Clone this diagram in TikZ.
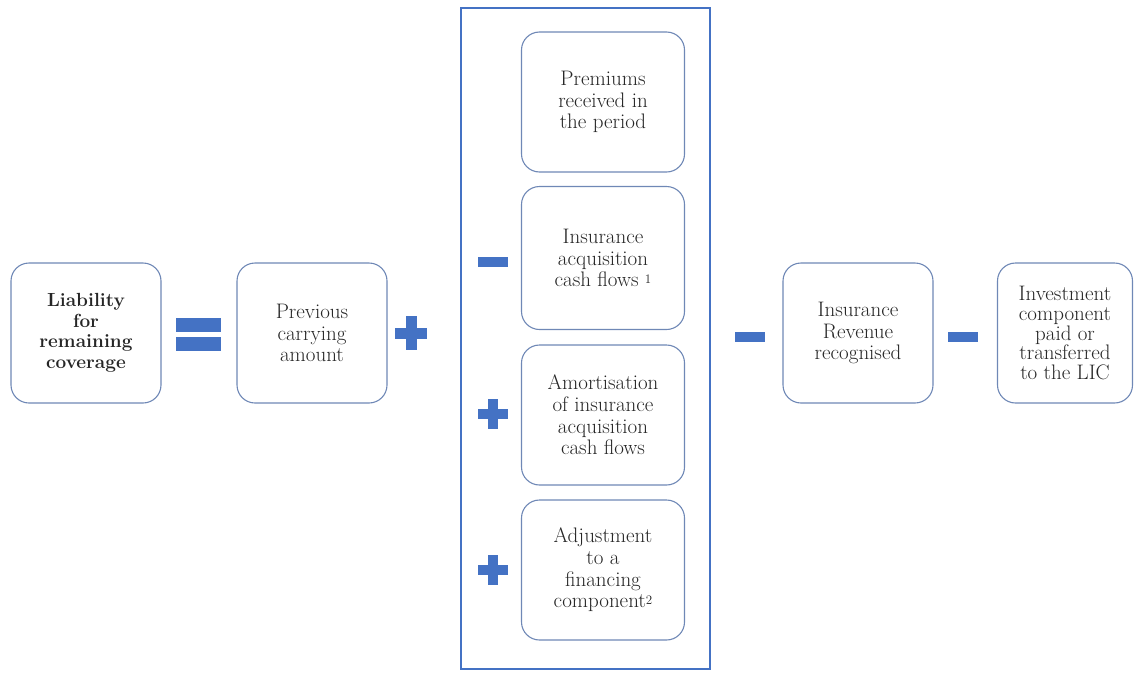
\documentclass[tikz,border=0pt]{standalone}
\usepackage{fontspec}
\usepackage{tikz}
\usetikzlibrary{positioning}

\definecolor{signblue}{HTML}{4472C4}
\definecolor{boxline}{HTML}{6F88B6}
\definecolor{textgray}{HTML}{262626}

\begin{document}
\begin{tikzpicture}[x=1pt, y=-1pt,
  every node/.style={font=\fontsize{21}{21.7}\selectfont, text=textgray},
  term/.style={draw=boxline, line width=1.1pt, rounded corners=18pt, fill=white,
    minimum width=150pt, minimum height=140pt, align=center, inner sep=1pt},
  minus/.style={fill=signblue, inner sep=0pt, minimum width=30pt, minimum height=10pt},
  plus/.pic={\fill[signblue] (-16,-5.5) rectangle (16,5.5);
             \fill[signblue] (-5.5,-17) rectangle (5.5,17);},
  smallplus/.pic={\fill[signblue] (-15,-5) rectangle (15,5);
                  \fill[signblue] (-5,-15) rectangle (5,15);}]

\useasboundingbox (0,0) rectangle (1137,672);

% left hand side
\node[term, font=\fontsize{19}{20.5}\selectfont\bfseries] (lrc) at (86,333)
  {Liability\\ for\\ remaining\\ coverage};
\node[minus, minimum width=45pt, minimum height=14pt] (eq1) at (198,325) {};
\node[minus, minimum width=45pt, minimum height=14pt] (eq2) at (198,344) {};

\node[term] (prev) at (312,333) {Previous\\ carrying\\ amount};
\pic at (411,333) {plus};

% cash flows in the period
\draw[signblue, line width=2pt] (461,8) rectangle (710,669);
\node[term, minimum width=163pt] (c1) at (603,102) {Premiums\\ received in\\ the period};
\node[term, minimum width=163pt, minimum height=143pt] (c2) at (603,258)
  {Insurance\\ acquisition\\ cash flows {\fontsize{13}{13}\selectfont\raisebox{0.6ex}{1}}};
\node[term, minimum width=163pt] (c3) at (603,415)
  {Amortisation\\ of insurance\\ acquisition\\ cash flows};
\node[term, minimum width=163pt] (c4) at (603,570)
  {Adjustment\\ to a\\ financing\\ component{\fontsize{13}{13}\selectfont\raisebox{0.6ex}{2}}};
\node[minus] (m1) at (493,262) {};
\pic at (493,414) {smallplus};
\pic at (493,570) {smallplus};

% deductions
\node[minus] (m2) at (750,337) {};
\node[term] (rev) at (858,333) {Insurance\\ Revenue\\ recognised};
\node[minus] (m3) at (963,337) {};
\node[term, minimum width=135pt, font=\fontsize{21}{19.8}\selectfont] (inv) at (1065,333)
  {Investment\\ component\\ paid or\\ transferred\\ to the LIC};

\end{tikzpicture}
\end{document}
